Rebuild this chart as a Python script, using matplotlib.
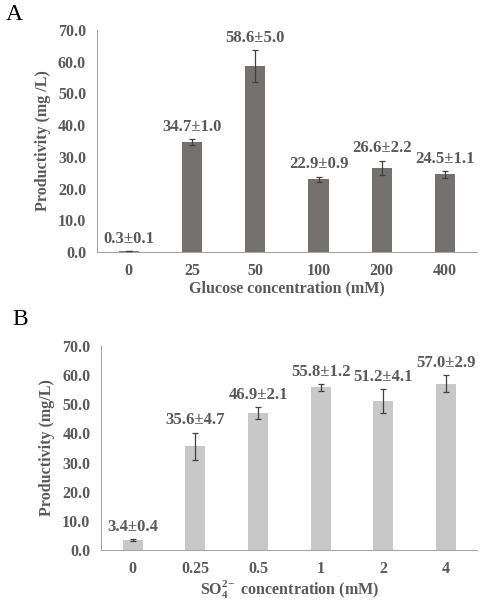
import matplotlib
matplotlib.use("Agg")
import matplotlib.pyplot as plt
import numpy as np

plt.rcParams["font.family"] = ["Liberation Serif", "DejaVu Serif"]
plt.rcParams["font.weight"] = "bold"
plt.rcParams["mathtext.fontset"] = "custom"
plt.rcParams["mathtext.rm"] = "Liberation Serif:bold"
plt.rcParams["mathtext.bf"] = "Liberation Serif:bold"

# Panel A: glucose
glucose_labels = ["0", "25", "50", "100", "200", "400"]
glucose_mean = [0.3, 34.7, 58.6, 22.9, 26.6, 24.5]
glucose_sd = [0.1, 1.0, 5.0, 0.9, 2.2, 1.1]

# Panel B: sulfate
sulfate_labels = ["0", "0.25", "0.5", "1", "2", "4"]
sulfate_mean = [3.4, 35.6, 46.9, 55.8, 51.2, 57.0]
sulfate_sd = [0.4, 4.7, 2.1, 1.2, 4.1, 2.9]

text_color = "#595959"
axis_color = "#a6a6a6"

fig = plt.figure(figsize=(4.81, 6.0), dpi=100)
ax_a = fig.add_axes([0.202, 0.58, 0.789, 0.37])
ax_b = fig.add_axes([0.211, 0.0833, 0.781, 0.34])


def draw_panel(ax, labels, mean, sd, color, xlabel, ylabel):
    x = np.arange(len(labels))
    ax.bar(x, mean, width=0.32, color=color, zorder=2)
    ax.errorbar(x, mean, yerr=sd, fmt="none", ecolor="#404040",
                elinewidth=0.9, capsize=2, capthick=0.9, zorder=3)
    for xi, m, s in zip(x, mean, sd):
        ax.annotate(f"{m:.1f}\u00b1{s:.1f}", (xi, m + s), xytext=(0, 3),
                    textcoords="offset points", ha="center", va="bottom",
                    fontsize=12, color=text_color, fontweight="bold")
    ax.set_xlim(-0.5, len(labels) - 0.5)
    ax.set_ylim(0, 70)
    ax.set_yticks(np.arange(0, 71, 10))
    ax.set_yticklabels([f"{v:.1f}" for v in np.arange(0, 71, 10)])
    ax.set_xticks(x)
    ax.set_xticklabels(labels)
    ax.tick_params(length=0, labelsize=11.5, labelcolor=text_color, pad=8)
    for t in ax.get_xticklabels() + ax.get_yticklabels():
        t.set_fontweight("bold")
    ax.spines["top"].set_visible(False)
    ax.spines["right"].set_visible(False)
    ax.spines["left"].set_color(axis_color)
    ax.spines["bottom"].set_color(axis_color)
    ax.set_xlabel(xlabel, fontsize=11.5, color=text_color, fontweight="bold", labelpad=1)
    ax.set_ylabel(ylabel, fontsize=11.5, color=text_color, fontweight="bold", labelpad=5)


draw_panel(ax_a, glucose_labels, glucose_mean, glucose_sd, "#767171",
           "Glucose concentration (mM)", "Productivity (mg /L)")
draw_panel(ax_b, sulfate_labels, sulfate_mean, sulfate_sd, "#c8c8c8",
           r"SO$_{4}^{2\!-}$ concentration (mM)", "Productivity (mg/L)")

fig.text(0.012, 0.975, "A", fontsize=17, fontweight="normal", va="center", color="black")
fig.text(0.025, 0.467, "B", fontsize=17, fontweight="normal", va="center", color="black")

fig.savefig("out.png", dpi=100)
